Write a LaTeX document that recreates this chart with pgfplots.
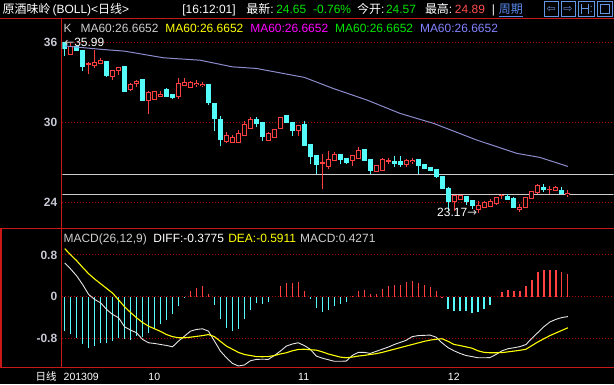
\documentclass[border=0pt]{standalone}
\usepackage{fontspec}
\usepackage{pgfplots}
\usepackage{pgfplotstable}
\pgfplotsset{compat=1.18}
\setmainfont{Liberation Sans}
\newfontfamily\cjk{Noto Sans CJK SC}
\newfontfamily\sym{DejaVu Sans}

\definecolor{framec}{RGB}{200,24,24}
\definecolor{gridc}{RGB}{170,0,0}
\definecolor{upc}{RGB}{255,64,64}
\definecolor{dnc}{RGB}{84,252,252}
\definecolor{tickc}{RGB}{200,200,212}
\definecolor{maline}{RGB}{140,140,205}
\definecolor{mablue}{RGB}{130,130,255}
\definecolor{hlinec}{RGB}{205,205,205}
\definecolor{diffc}{RGB}{230,230,230}
\definecolor{deac}{RGB}{255,255,0}
\definecolor{grn}{RGB}{0,230,0}
\definecolor{magc}{RGB}{255,0,255}
\definecolor{hdrred}{RGB}{255,80,80}
\definecolor{linkblue}{RGB}{90,140,240}
\definecolor{iconc}{RGB}{100,150,230}

% up (red, hollow) candles: index open high low close
\pgfplotstableread{
i o h l c
1 35.07 35.92 35.05 35.67
4 34.33 34.55 33.60 34.38
5 34.25 35.40 34.10 34.47
6 34.42 34.85 34.40 34.60
8 33.42 33.85 33.20 33.85
9 33.90 34.12 33.57 34.12
11 32.42 32.97 32.30 32.80
12 32.88 33.17 32.60 33.05
14 31.62 32.30 30.60 32.20
15 31.73 32.30 31.73 32.27
16 31.93 32.30 31.93 32.10
19 31.92 33.30 31.72 32.92
20 32.75 33.30 32.75 33.00
21 32.60 33.12 32.60 33.00
22 32.80 33.15 32.67 32.90
23 32.72 33.00 32.60 32.80
27 28.55 29.25 28.42 28.97
28 28.47 29.05 28.47 28.87
29 28.47 29.42 28.47 29.12
30 29.00 30.05 29.00 29.80
31 29.52 30.35 29.52 30.17
34 28.62 29.25 28.62 29.17
35 28.87 29.47 28.87 29.47
36 29.55 30.37 29.47 30.37
39 29.37 29.72 28.92 29.72
43 26.90 27.60 24.95 26.97
44 26.70 27.85 26.47 27.22
45 27.12 27.75 27.05 27.55
48 27.12 27.50 26.70 27.47
49 27.25 28.15 27.25 27.85
52 26.30 26.75 26.30 26.72
53 26.37 27.30 26.37 27.17
54 27.05 27.30 26.85 27.10
57 26.85 27.25 26.62 27.10
58 27.02 27.30 26.85 27.10
65 24.05 24.55 23.30 24.50
66 24.22 24.55 24.22 24.50
69 23.47 24.05 23.17 23.72
70 23.62 24.10 23.62 23.97
71 23.67 24.22 23.67 24.00
72 23.92 24.40 23.75 24.37
73 24.45 24.62 24.22 24.50
76 23.42 23.87 23.22 23.62
77 23.62 24.37 23.62 24.37
78 24.25 24.80 24.25 24.80
79 24.72 25.32 24.62 25.22
81 24.92 25.17 24.62 24.97
82 24.87 25.22 24.87 25.05
84 24.57 24.89 24.40 24.65
}\upT

% down (cyan, filled) candles: index open high low close
\pgfplotstableread{
i o h l c
0 35.95 35.99 34.95 35.50
2 35.65 35.72 35.37 35.37
3 35.35 35.35 33.87 34.17
7 34.53 34.57 33.42 33.50
10 34.15 34.15 32.30 32.30
13 33.17 33.17 31.62 31.62
17 32.47 32.55 31.85 31.92
18 32.05 32.05 31.72 31.85
24 32.85 32.85 31.30 31.47
25 31.37 31.37 29.30 30.25
26 30.17 30.47 28.17 28.67
32 30.17 30.35 29.62 29.87
33 30.00 30.00 28.55 28.92
37 30.47 30.47 29.97 29.97
38 30.00 30.00 28.99 29.37
40 29.80 30.10 28.25 28.25
41 28.30 28.30 26.87 27.42
42 27.47 27.55 26.12 26.80
46 27.55 27.55 26.87 27.17
47 27.30 27.30 26.87 27.00
50 27.92 27.92 27.10 27.10
51 27.17 27.17 26.12 26.37
55 27.02 27.47 26.62 26.92
56 27.05 27.47 26.62 26.80
59 27.17 27.17 26.10 26.72
60 26.80 26.80 26.45 26.55
61 26.62 26.62 26.30 26.37
62 26.42 26.42 25.80 25.92
63 25.92 25.92 25.00 25.00
64 24.99 25.12 23.35 24.05
67 24.42 24.42 23.80 24.05
68 24.10 24.10 23.45 23.72
74 24.42 24.60 24.17 24.17
75 24.25 24.37 23.55 23.55
80 25.12 25.37 24.75 24.92
83 24.87 25.12 24.60 24.60
}\dnT

% MA60 line
\pgfplotstableread{
i p
0 35.72
6.5 35.45
10 35.33
16.5 34.83
22.6 34.65
28 34.15
32 34.03
40 33.36
44.8 32.53
50.5 31.65
56 30.65
61.6 29.90
68.8 28.65
75.5 27.65
79.3 27.35
84 26.67
}\maT

% MACD histogram, DIFF, DEA
\pgfplotstableread{
i m dif dea
0 -0.655 0.647 0.92
1 -0.718 0.53 0.80
2 -0.782 0.40 0.69
3 -0.909 0.234 0.56
4 -0.972 0.044 0.44
5 -0.94 -0.05 0.34
6 -0.89 -0.115 0.25
7 -0.89 -0.242 0.16
8 -0.845 -0.337 0.07
9 -0.782 -0.40 -0.06
10 -0.813 -0.572 -0.19
11 -0.826 -0.635 -0.30
12 -0.75 -0.686 -0.40
13 -0.763 -0.813 -0.49
14 -0.686 -0.877 -0.56
15 -0.623 -0.89 -0.61
16 -0.528 -0.909 -0.66
17 -0.445 -0.928 -0.72
18 -0.337 -0.953 -0.76
19 -0.166 -0.845 -0.78
20 -0.01 -0.75 -0.78
21 0.107 -0.655 -0.77
22 0.17 -0.623 -0.755
23 0.202 -0.61 -0.74
24 0.063 -0.655 -0.72
25 -0.147 -0.845 -0.76
26 -0.432 -1.036 -0.85
27 -0.591 -1.163 -0.94
28 -0.655 -1.27 -1.00
29 -0.61 -1.32 -1.06
30 -0.432 -1.30 -1.10
31 -0.242 -1.22 -1.12
32 -0.115 -1.194 -1.14
33 -0.128 -1.19 -1.143
34 -0.09 -1.194 -1.14
35 0.0 -1.12 -1.12
36 0.202 -1.036 -1.09
37 0.266 -0.94 -1.067
38 0.266 -0.90 -1.03
39 0.279 -0.877 -1.004
40 0.12 -0.93 -1.00
41 -0.05 -1.00 -1.01
42 -0.21 -1.13 -1.017
43 -0.293 -1.17 -1.05
44 -0.255 -1.20 -1.09
45 -0.178 -1.23 -1.12
46 -0.128 -1.23 -1.15
47 -0.10 -1.226 -1.163
48 0.01 -1.12 -1.15
49 0.12 -1.06 -1.13
50 0.139 -1.06 -1.118
51 0.063 -1.08 -1.10
52 0.063 -1.04 -1.085
53 0.158 -1.00 -1.06
54 0.202 -0.96 -1.03
55 0.234 -0.91 -1.00
56 0.234 -0.87 -0.97
57 0.279 -0.83 -0.94
58 0.298 -0.76 -0.91
59 0.266 -0.74 -0.88
60 0.234 -0.735 -0.85
61 0.19 -0.73 -0.826
62 0.12 -0.77 -0.81
63 0.005 -0.88 -0.80
64 -0.23 -0.97 -0.85
65 -0.274 -1.03 -0.909
66 -0.274 -1.08 -0.93
67 -0.274 -1.12 -0.955
68 -0.305 -1.14 -0.98
69 -0.293 -1.163 -1.03
70 -0.23 -1.163 -1.06
71 -0.147 -1.16 -1.067
72 0.0 -1.10 -1.067
73 0.088 -1.03 -1.065
74 0.139 -0.99 -1.05
75 0.107 -0.972 -1.035
76 0.107 -0.95 -1.02
77 0.202 -0.91 -1.00
78 0.33 -0.79 -0.93
79 0.469 -0.68 -0.86
80 0.507 -0.57 -0.80
81 0.52 -0.48 -0.74
82 0.52 -0.43 -0.69
83 0.469 -0.395 -0.64
84 0.427 -0.3775 -0.5911
}\macdT

\begin{document}
\begin{tikzpicture}[x=1bp,y=1bp]
\fill[black] (0,0) rectangle (614,385);

% ---------- header ----------
\begin{scope}[every node/.style={anchor=base west, inner sep=0pt, font=\fontsize{12bp}{14bp}\selectfont}]
\node[text=white] at (2,371) {{\cjk 原酒味岭}\,(BOLL)<{\cjk 日线}>};
\node[text=white] at (182,371) {[16:12:01]};
\node[text=white] at (246,371) {{\cjk 最新}:};
\node[text=grn] at (276,371) {24.65};
\node[text=grn] at (313,371) {-0.76\%};
\node[text=white] at (357,371) {{\cjk 今开}:};
\node[text=grn] at (386,371) {24.57};
\node[text=white] at (425,371) {{\cjk 最高}:};
\node[text=hdrred] at (455,371) {24.89};
\node[text=white] at (492,371) {|};
\node[text=linkblue] at (499,371) {\cjk 周期};
\end{scope}
\draw[linkblue, line width=0.8bp] (499,369) -- (523,369);
% toolbar icons
\draw[iconc, line width=1bp] (544.5,368.5) rectangle (558.5,383.5);
\node[text=iconc, inner sep=0pt, font=\sym\fontsize{11bp}{11bp}\selectfont] at (551.5,376) {⇦};
\draw[iconc, line width=1bp] (561.5,368.5) rectangle (575.5,383.5);
\node[text=iconc, inner sep=0pt, font=\sym\fontsize{11bp}{11bp}\selectfont] at (568.5,376) {⇨};
\draw[iconc, line width=1bp] (578.5,368.5) rectangle (594.5,383.5);
\draw[iconc, line width=1bp] (581.5,371) -- (581.5,381) (581.5,376) -- (588.5,376) (588.5,371) -- (588.5,381);
\fill[iconc] (591,373) rectangle (592,374) (591,378) rectangle (592,379);
\draw[iconc, line width=1bp] (597.5,368.5) rectangle (612.5,383.5);
\draw[iconc, line width=1bp] (600.5,371.5) rectangle (609.5,380.5);

% ---------- price panel ----------
\begin{axis}[
  at={(62bp,157bp)}, anchor=south west, scale only axis,
  width=552bp, height=209bp,
  xmin=-0.383, xmax=91.617, ymin=22.0725, ymax=37.7475,
  axis line style={draw=none}, tick style={draw=none},
  xtick=\empty,
  ytick={24,30,36}, yticklabels={24,30,36},
  yticklabel style={text=tickc, anchor=east, inner sep=0pt, xshift=-5bp,
    font=\bfseries\fontsize{12bp}{14bp}\selectfont},
  ymajorgrids, grid style={draw=gridc, line width=0.8bp, dash pattern=on 1bp off 2bp},
]
\addplot[hlinec, line width=1bp, forget plot] coordinates {(-0.383,26.08) (91.617,26.08)};
\addplot[hlinec, line width=1bp, forget plot] coordinates {(-0.383,24.58) (91.617,24.58)};
% down candles: wick then filled body
\addplot[draw=none, mark=none, forget plot,
  error bars/.cd, y dir=plus, y explicit, error mark=none,
  error bar style={draw=dnc, line width=1bp}]
  table[x=i, y=l, y error plus expr=\thisrow{h}-\thisrow{l}] {\dnT};
\addplot[draw=none, mark=none, forget plot,
  error bars/.cd, y dir=plus, y explicit, error mark=none,
  error bar style={draw=dnc, line width=5bp}]
  table[x=i, y expr=\thisrow{c}-0.0375, y error plus expr=\thisrow{o}-\thisrow{c}+0.075] {\dnT};
% up candles: wick, red body, black inside
\addplot[draw=none, mark=none, forget plot,
  error bars/.cd, y dir=plus, y explicit, error mark=none,
  error bar style={draw=upc, line width=1bp}]
  table[x=i, y=l, y error plus expr=\thisrow{h}-\thisrow{l}] {\upT};
\addplot[draw=none, mark=none, forget plot,
  error bars/.cd, y dir=plus, y explicit, error mark=none,
  error bar style={draw=upc, line width=5bp}]
  table[x=i, y expr=\thisrow{o}-0.0375, y error plus expr=\thisrow{c}-\thisrow{o}+0.075] {\upT};
\addplot[draw=none, mark=none, forget plot,
  error bars/.cd, y dir=plus, y explicit, error mark=none,
  error bar style={draw=black, line width=3bp}]
  table[x=i, y expr=\thisrow{o}+0.0375, y error plus expr={max(\thisrow{c}-\thisrow{o}-0.075,0)}] {\upT};
% MA60
\addplot[maline, line width=1bp, mark=none] table[x=i, y=p] {\maT};
% annotations
\node[anchor=west, inner sep=0pt, text=white, font=\fontsize{12bp}{14bp}\selectfont]
  at (axis cs:-0.1,35.97) {{\sym\color{hlinec}←}35.99};
\node[anchor=east, inner sep=0pt, text=white, font=\fontsize{12bp}{14bp}\selectfont]
  at (axis cs:68.9,23.2) {23.17{\sym\color{hlinec}→}};
\end{axis}

% ---------- MACD panel ----------
\begin{axis}[
  at={(62bp,17bp)}, anchor=south west, scale only axis,
  width=552bp, height=139bp,
  xmin=-0.383, xmax=91.617, ymin=-1.3467, ymax=1.301,
  axis line style={draw=none}, tick style={draw=none},
  xtick={-0.2,13.95,38.95,63.95}, xticklabels={201309,10,11,12},
  xticklabel style={text=white, anchor=base west, inner sep=0pt, yshift=-13.5bp,
    font=\fontsize{10.5bp}{12bp}\selectfont},
  ytick={-0.8,0,0.8}, yticklabels={-0.8,0,0.8},
  yticklabel style={text=tickc, anchor=east, inner sep=0pt, xshift=-5bp,
    font=\bfseries\fontsize{12bp}{14bp}\selectfont},
  ymajorgrids, grid style={draw=gridc, line width=0.8bp, dash pattern=on 1bp off 2bp},
]
\addplot[ycomb, draw=upc, line width=1.2bp, mark=none, forget plot]
  table[x=i, y expr={max(\thisrow{m},0)}] {\macdT};
\addplot[ycomb, draw=dnc, line width=1.2bp, mark=none, forget plot]
  table[x=i, y expr={min(\thisrow{m},0)}] {\macdT};
\addplot[diffc, line width=0.9bp, mark=none] table[x=i, y=dif] {\macdT};
\addplot[deac, line width=1.1bp, mark=none] table[x=i, y=dea] {\macdT};
\end{axis}

% ---------- legends ----------
\begin{scope}[every node/.style={anchor=base west, inner sep=0pt, font=\fontsize{12bp}{14bp}\selectfont}]
\node[text=hlinec] at (63,352.3) {K};
\node[text=hlinec] at (80,352.3) {MA60:26.6652};
\node[text=deac] at (165,352.3) {MA60:26.6652};
\node[text=magc] at (250,352.3) {MA60:26.6652};
\node[text=grn] at (335,352.3) {MA60:26.6652};
\node[text=mablue] at (420,352.3) {MA60:26.6652};
\node[text=hlinec] at (63,141.7) {MACD(26,12,9)};
\node[text=white] at (153,141.7) {DIFF:-0.3775};
\node[text=deac] at (228,141.7) {DEA:-0.5911};
\node[text=hlinec] at (300,141.7) {MACD:0.4271};
\node[text=white, font=\cjk\fontsize{10.5bp}{12bp}\selectfont] at (35,3.5) {日线};
\end{scope}

% ---------- frame ----------
\draw[framec, line width=1bp] (0,366.5) -- (614,366.5);
\draw[framec, line width=1bp] (0,156.5) -- (614,156.5);
\draw[framec, line width=1bp] (0,16.5) -- (614,16.5);
\draw[framec, line width=1bp] (61.5,16.5) -- (61.5,366.5);
\draw[framec, line width=1.5bp] (0.75,16.5) -- (0.75,156.5);
\end{tikzpicture}
\end{document}
